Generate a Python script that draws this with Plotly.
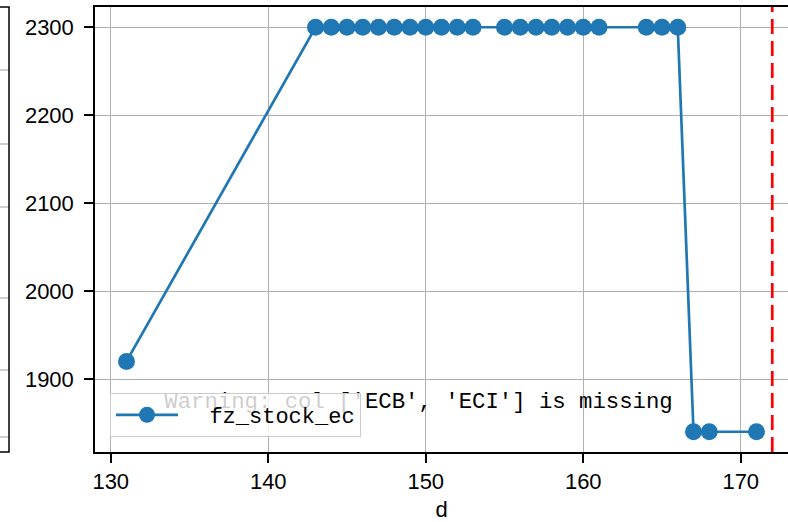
import plotly.graph_objects as go

# ---- data ----
d_values = [131, 143, 144, 145, 146, 147, 148, 149, 150, 151, 152, 153,
            155, 156, 157, 158, 159, 160, 161, 164, 165, 166, 167, 168, 171]
fz_stock_ec = [1920, 2300, 2300, 2300, 2300, 2300, 2300, 2300, 2300, 2300, 2300, 2300,
               2300, 2300, 2300, 2300, 2300, 2300, 2300, 2300, 2300, 2300, 1840, 1840, 1840]
cutoff_d = 172
x_ticks = [130, 140, 150, 160, 170]
y_ticks = [1900, 2000, 2100, 2200, 2300]
warning_text = "Warning: col ['ECB', 'ECI'] is missing"
series_name = "fz_stock_ec"
x_label = "d"

# ---- layout constants (pixels) ----
W, H = 788, 522
L, R, T, B = 95, 0, 7, 70
PW, PH = W - L - R, H - T - B


def px_x(px):
    return (px - L) / PW


def px_y(py):
    return (H - B - py) / PH


mono = "Liberation Mono"
sans = "Liberation Sans"

fig = go.Figure()
fig.add_trace(go.Scatter(
    x=d_values, y=fz_stock_ec, mode="lines+markers",
    name="\u00a0\u00a0" + series_name,
    line=dict(color="#1f77b4", width=2.7),
    marker=dict(color="#1f77b4", size=17),
    cliponaxis=False,
))

shapes = []
# red dashed cutoff line
shapes.append(dict(type="line", xref="x", yref="paper", x0=cutoff_d, x1=cutoff_d,
                   y0=0, y1=1, line=dict(color="red", width=2.7, dash="15px,7px")))
# warning text (shape label so that the legend sits above it)
shapes.append(dict(type="rect", xref="paper", yref="paper",
                   x0=px_x(160), x1=px_x(677), y0=px_y(412), y1=px_y(386),
                   line=dict(width=0), fillcolor="rgba(0,0,0,0)", layer="above",
                   label=dict(text=warning_text, textposition="middle center",
                              font=dict(family=mono, size=22.3, color="black"))))
# neighbouring panel edge at far left
for gy in [70, 144, 207, 298, 370, 437]:
    shapes.append(dict(type="line", xref="paper", yref="paper",
                       x0=px_x(-2), x1=px_x(9), y0=px_y(gy), y1=px_y(gy),
                       line=dict(color="#b0b0b0", width=1.2)))
shapes.append(dict(type="line", xref="paper", yref="paper",
                   x0=px_x(9), x1=px_x(9), y0=px_y(T), y1=px_y(452),
                   line=dict(color="black", width=1.5)))
shapes.append(dict(type="line", xref="paper", yref="paper",
                   x0=px_x(-2), x1=px_x(9.7), y0=px_y(T), y1=px_y(T),
                   line=dict(color="black", width=1.5)))
shapes.append(dict(type="line", xref="paper", yref="paper",
                   x0=px_x(-2), x1=px_x(9.7), y0=px_y(452), y1=px_y(452),
                   line=dict(color="black", width=1.5)))

fig.update_layout(
    width=W, height=H,
    margin=dict(l=L, r=R, t=T, b=B, pad=0, autoexpand=False),
    plot_bgcolor="white", paper_bgcolor="white",
    shapes=shapes,
    font=dict(family=sans, size=22, color="black"),
    showlegend=True,
    legend=dict(x=px_x(110), y=px_y(393), xanchor="left", yanchor="top",
                bgcolor="rgba(255,255,255,0.8)", bordercolor="#cccccc", borderwidth=1,
                font=dict(family=mono, size=22, color="black"), itemwidth=62),
    xaxis=dict(range=[129, 173], tickvals=x_ticks, ticks="outside", ticklen=9,
               tickwidth=1.5, tickcolor="black", showline=True, linecolor="black",
               linewidth=1.5, mirror=True, showgrid=True, gridcolor="#b0b0b0",
               gridwidth=1.2, zeroline=False, automargin=False,
               title=dict(text=x_label, font=dict(family=sans, size=22), standoff=10),
               tickfont=dict(family=sans, size=22)),
    yaxis=dict(range=[1817, 2323], tickvals=y_ticks, ticks="outside", ticklen=9,
               tickwidth=1.5, tickcolor="black", showline=True, linecolor="black",
               linewidth=1.5, mirror=False, showgrid=True, gridcolor="#b0b0b0",
               gridwidth=1.2, zeroline=False, ticklabelstandoff=6, automargin=False,
               tickfont=dict(family=sans, size=22)),
)

fig.write_html("out.html", config={"displayModeBar": False},
               post_script="document.body.style.margin='0';document.body.style.overflow='hidden';")
